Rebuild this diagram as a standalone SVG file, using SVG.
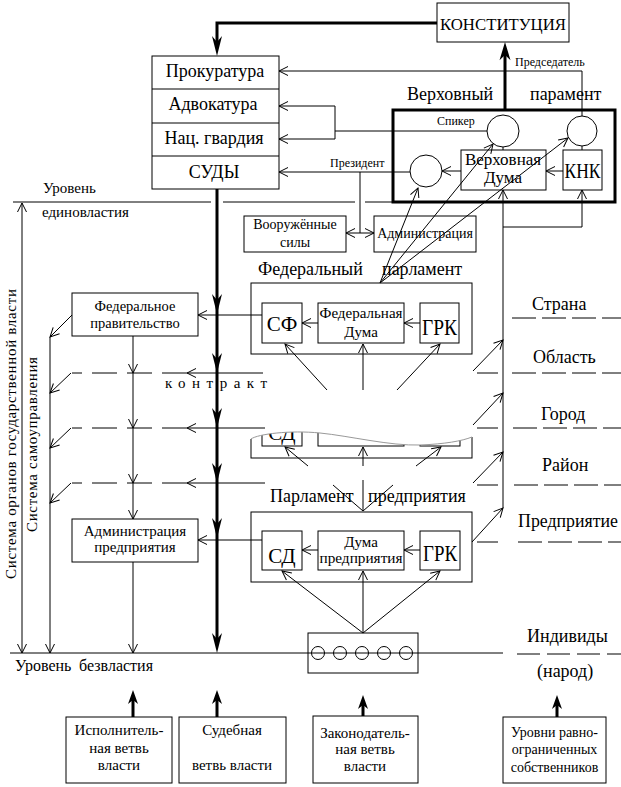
<svg xmlns="http://www.w3.org/2000/svg" width="621" height="787" viewBox="0 0 621 787" font-family="'Liberation Serif', 'Times New Roman', 'DejaVu Serif', serif">
<style>
text{font-family:'Liberation Serif','Times New Roman','DejaVu Serif',serif;fill:#000}
.b{fill:#fff;stroke:#000;stroke-width:1}
.bn{fill:none;stroke:#000;stroke-width:1}
.c{fill:none;stroke:#000;stroke-width:1}
.a{marker-end:url(#oa)}
.th{fill:none;stroke:#000;stroke-width:3}
.d{stroke-dasharray:25 10}
.dr{stroke-dasharray:24 6}
.m{text-anchor:middle}
</style>
<defs>
<marker id="oa" markerUnits="userSpaceOnUse" markerWidth="12" markerHeight="12" viewBox="-10 -6 12 12" refX="0" refY="0" orient="auto-start-reverse">
<path d="M-9,-4.5 L0,0 L-9,4.5" fill="none" stroke="#000" stroke-width="1"/>
</marker>
<path id="ta" d="M0,0 L-5,-20 L0,-14 L5,-20 Z" fill="#000"/>
<path id="tb" d="M0,0 L-5,14 L0,10 L5,14 Z" fill="#000"/>
<clipPath id="tear"><path d="M251,439 C258,434 290,430 320,433 C350,436 390,446 420,445 C445,444 462,441 472,437 L480,437 L480,470 L240,470 L240,439 Z"/></clipPath>
</defs>
<rect width="621" height="787" fill="#fff"/>

<g id="konst"><rect class="b" x="437" y="3" width="132" height="39"/><text x="503" y="30" class="m" font-size="17" textLength="126" lengthAdjust="spacingAndGlyphs">КОНСТИТУЦИЯ</text></g>

<g id="stack">
<rect class="b" x="152" y="56" width="127" height="133"/>
<line class="c" x1="152" y1="89" x2="279" y2="89"/>
<line class="c" x1="152" y1="123" x2="279" y2="123"/>
<line class="c" x1="152" y1="156" x2="279" y2="156"/>
<text x="215" y="77" class="m" font-size="18">Прокуратура</text>
<text x="213" y="110" class="m" font-size="18">Адвокатура</text>
<text x="214" y="144" class="m" font-size="18">Нац. гвардия</text>
<text x="214" y="178" class="m" font-size="18">СУДЫ</text>
</g>

<g id="verkh">
<text x="407" y="100" font-size="18">Верховный</text>
<text x="530" y="100" font-size="18">парамент</text>
<rect x="393" y="110" width="222" height="92" fill="none" stroke="#000" stroke-width="3"/>
<circle class="bn" cx="503" cy="131" r="16"/>
<circle class="bn" cx="582" cy="131" r="15"/>
<circle class="bn" cx="426" cy="171" r="16"/>
<text x="437" y="125" font-size="12">Спикер</text>
<rect class="bn" x="461" y="150" width="85" height="40"/>
<text x="503" y="165" class="m" font-size="17">Верховная</text>
<text x="503" y="183" class="m" font-size="17">Дума</text>
<rect class="bn" x="563" y="150" width="39" height="40"/>
<text x="582.5" y="178" class="m" font-size="20" textLength="36" lengthAdjust="spacingAndGlyphs">КНК</text>
</g>

<text x="330" y="167" font-size="12">Президент</text>
<text x="515" y="66" font-size="12">Председатель</text>

<g id="armed"><rect class="b" x="244" y="216" width="102" height="36"/><text x="295" y="229" class="m" font-size="14">Вооружённые</text><text x="295" y="247" class="m" font-size="14">силы</text></g>
<g id="admin"><rect class="b" x="374" y="216" width="102" height="36"/><text x="425" y="238" class="m" font-size="14">Администрация</text></g>

<g id="fedparl">
<text x="258" y="275" font-size="18">Федеральный</text>
<text x="382" y="275" font-size="18">парламент</text>
<rect class="b" x="251" y="283" width="221" height="71"/>
<rect class="b" x="262" y="303" width="40" height="40"/>
<text x="282" y="331" class="m" font-size="21">СФ</text>
<rect class="b" x="318" y="303" width="86" height="40"/>
<text x="361" y="318" class="m" font-size="14" textLength="83" lengthAdjust="spacingAndGlyphs">Федеральная</text>
<text x="361" y="337" class="m" font-size="15">Дума</text>
<rect class="b" x="420" y="303" width="39" height="40"/>
<text x="439.5" y="335" class="m" font-size="24" textLength="35" lengthAdjust="spacingAndGlyphs">ГРК</text>
</g>

<g id="fedgov"><rect class="b" x="72" y="293" width="126" height="43"/><text x="135" y="311" class="m" font-size="14.5">Федеральное</text><text x="135" y="328" class="m" font-size="14.5">правительство</text></g>

<g id="torn">
<g clip-path="url(#tear)">
<rect class="bn" x="251" y="400" width="221" height="58"/>
<rect class="bn" x="262" y="407" width="40" height="39"/>
<rect class="bn" x="318" y="407" width="86" height="39"/>
<rect class="bn" x="420" y="407" width="40" height="39"/>
<text x="282" y="440" class="m" font-size="21">СД</text>
</g>
<path d="M251,439 C258,434 290,430 320,433 C350,436 390,446 420,445 C445,444 462,441 472,437" fill="none" stroke="#999" stroke-width="1"/>
</g>

<g id="entparl">
<text x="270" y="502" font-size="18">Парламент</text>
<text x="368" y="502" font-size="18">предприятия</text>
<rect class="b" x="251" y="512" width="221" height="70"/>
<rect class="b" x="262" y="531" width="40" height="39"/>
<text x="282" y="563" class="m" font-size="21">СД</text>
<rect class="b" x="318" y="531" width="86" height="39"/>
<text x="361" y="547" class="m" font-size="15">Дума</text>
<text x="361" y="563" class="m" font-size="15" textLength="83" lengthAdjust="spacingAndGlyphs">предприятия</text>
<rect class="b" x="420" y="531" width="40" height="39"/>
<text x="440" y="561" class="m" font-size="24" textLength="34" lengthAdjust="spacingAndGlyphs">ГРК</text>
</g>

<g id="admpred"><rect class="b" x="72" y="519" width="126" height="43"/><text x="135" y="536" class="m" font-size="15">Администрация</text><text x="135" y="552" class="m" font-size="15">предприятия</text></g>

<g id="indiv">
<rect class="b" x="308" y="633" width="110" height="40"/>
<circle class="bn" cx="318" cy="653" r="6.5"/>
<circle class="bn" cx="340" cy="653" r="6.5"/>
<circle class="bn" cx="362" cy="653" r="6.5"/>
<circle class="bn" cx="384" cy="653" r="6.5"/>
<circle class="bn" cx="406" cy="653" r="6.5"/>
</g>

<g id="bottom">
<g id="exec"><rect class="b" x="66" y="717" width="106" height="66"/><text x="119" y="735" class="m" font-size="15">Исполнитель-</text><text x="119" y="753" class="m" font-size="15">ная ветвь</text><text x="119" y="770" class="m" font-size="15">власти</text></g>
<g id="jud"><rect class="b" x="179" y="717" width="107" height="66"/><text x="232" y="735" class="m" font-size="15">Судебная</text><text x="232" y="770" class="m" font-size="15">ветвь власти</text></g>
<g id="leg"><rect class="b" x="313" y="716" width="105" height="67"/><text x="365" y="738" class="m" font-size="15">Законодатель-</text><text x="365" y="754" class="m" font-size="15">ная ветвь</text><text x="365" y="771" class="m" font-size="15">власти</text></g>
<g id="own"><rect class="b" x="503" y="717" width="103" height="66"/><text x="554.5" y="737" class="m" font-size="14">Уровни равно-</text><text x="554.5" y="754" class="m" font-size="14">ограниченных</text><text x="554.5" y="772" class="m" font-size="14">собственников</text></g>
</g>

<g id="labels">
<text x="43" y="193" font-size="15">Уровень</text>
<text x="42" y="217" font-size="15">единовластия</text>
<text x="15" y="671" font-size="16">Уровень</text>
<text x="79" y="671" font-size="16">безвластия</text>
<text x="165" y="388" font-size="15" textLength="102" lengthAdjust="spacing">контракт</text>
<text transform="translate(16,434) rotate(-90)" class="m" font-size="15" textLength="290" lengthAdjust="spacing">Система органов  государственной  власти</text>
<text transform="translate(37,444.5) rotate(-90)" class="m" font-size="15" textLength="175" lengthAdjust="spacing">Система  самоуправления</text>
<text x="532" y="310" font-size="18">Страна</text>
<text x="533" y="363" font-size="18">Область</text>
<text x="541" y="420" font-size="18">Город</text>
<text x="542" y="471" font-size="18">Район</text>
<text x="518" y="527" font-size="18" textLength="100" lengthAdjust="spacingAndGlyphs">Предприятие</text>
<text x="527" y="642" font-size="18">Индивиды</text>
<text x="537" y="677" font-size="18">(народ)</text>
</g>

<g id="connectors">
<path class="th" d="M437,23 H217 V42"/>
<use href="#ta" x="217" y="56"/>
<line class="th" x1="217" y1="189" x2="217" y2="645"/>
<use href="#ta" x="217" y="314"/>
<use href="#ta" x="217" y="373"/>
<use href="#ta" x="217" y="428"/>
<use href="#ta" x="217" y="483"/>
<use href="#ta" x="217" y="538"/>
<use href="#ta" x="217" y="653"/>
<line class="th" x1="505" y1="110" x2="505" y2="55"/>
<use href="#tb" transform="translate(505,42) scale(1.1,1.3)"/>
<line class="th" x1="133" y1="717" x2="133" y2="700" stroke-width="3.5"/>
<use href="#tb" x="133" y="690"/>
<line class="th" x1="217" y1="717" x2="217" y2="700" stroke-width="3.5"/>
<use href="#tb" x="217" y="690"/>
<line class="th" x1="363" y1="716" x2="363" y2="705" stroke-width="3.5"/>
<use href="#tb" x="363" y="695"/>
<line class="th" x1="557" y1="717" x2="557" y2="705" stroke-width="3.5"/>
<use href="#tb" x="557" y="695"/>

<path class="c a" d="M582,116 V71 H279"/>
<path class="c" d="M487,131 H335 M335,106 V139"/>
<path class="c a" d="M335,106 H279"/>
<path class="c a" d="M335,139 H279"/>
<path class="c a" d="M410,172 H279"/>
<path class="c" d="M360,172 V233"/>
<path class="c a" d="M346,233 H374" marker-start="url(#oa)"/>
<path class="c a" d="M461,171 H442"/>
<path class="c a" d="M563,171 H546"/>
<path class="c" d="M503,147 V150 M582,146 V150"/>
<path class="c a" d="M380,283 L418,188"/>
<path class="c a" d="M380,283 L493,144"/>
<path class="c a" d="M380,283 L568,138"/>
<path class="c a" d="M503,508 V190"/>
<path class="c a" d="M503,227 H582 V190"/>
<path class="c a" d="M473,371 L503,340"/>
<path class="c a" d="M473,425 L503,393"/>
<path class="c a" d="M473,483 L503,452"/>
<path class="c a" d="M472,542 L503,508"/>

<path class="c a" d="M420,323 H404"/>
<path class="c a" d="M318,323 H302"/>
<path class="c a" d="M262,315 H198"/>
<path class="c a" d="M327,390 L285,344"/>
<path class="c a" d="M363,390 V344"/>
<path class="c a" d="M397,390 L440,344"/>
<path class="c a" d="M308,466 L285,447"/>
<path class="c a" d="M363,466 V447"/>
<path class="c a" d="M416,466 L441,447"/>
<path class="c" d="M333,485 L363,511 L393,485 M363,480 V511"/>

<path class="c a" d="M420,550 H404"/>
<path class="c a" d="M318,550 H302"/>
<path class="c a" d="M262,540 H198"/>
<path class="c a" d="M363,633 L282,571"/>
<path class="c a" d="M363,633 V571"/>
<path class="c a" d="M363,633 L440,571"/>

<path class="c a" d="M133,336 V373"/>
<path class="c a" d="M133,373 V428"/>
<path class="c a" d="M133,428 V483"/>
<path class="c a" d="M133,483 V519"/>
<path class="c a" d="M133,562 V653"/>
<path class="c d" d="M187,373 H72 M187,428 H72 M187,483 H72"/>
<path class="c a" d="M263,373 H187"/>
<path class="c a" d="M265,428 H187"/>
<path class="c a" d="M265,483 H187"/>
<path class="c a" d="M72,315 L50,337"/>
<path class="c a" d="M71,373 L50,393"/>
<path class="c a" d="M71,428 L50,448"/>
<path class="c a" d="M71,483 L50,503"/>
<path class="c a" d="M50,337 V653"/>
<path class="c a" d="M22,203 V653" marker-start="url(#oa)"/>

<path class="c" d="M13,202 H211 M223,202 H355 M365,202 H393"/>
<path class="c" d="M10,653 H503"/>
<path class="c dr" d="M512,318 H621"/>
<path class="c" d="M477,373 H498 M477,428 H498 M477,485 H498 M477,542 H498"/>
<path class="c dr" d="M512,373 H621 M513,428 H621 M514,485 H621 M518,542 H621"/>
<path class="c" stroke-dasharray="23 7" d="M517,654 H621"/>
</g>
</svg>
